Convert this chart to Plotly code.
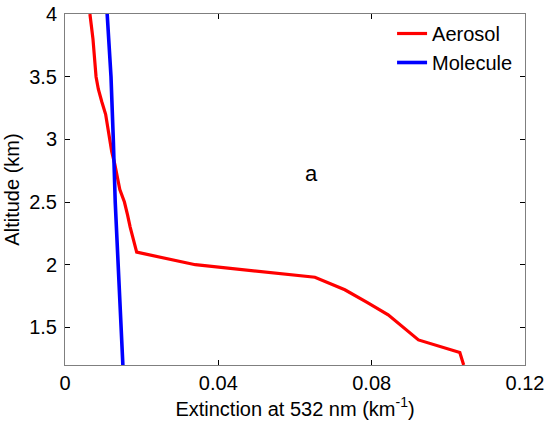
import plotly.graph_objects as go

# Aerosol extinction profile (km^-1) vs altitude (km)
aer_alt = [1.2, 1.3, 1.4, 1.5, 1.6, 1.7, 1.8, 1.9, 2.0, 2.1, 2.2, 2.3, 2.4, 2.5,
           2.6, 2.7, 2.8, 2.9, 3.0, 3.1, 3.2, 3.3, 3.4, 3.5, 3.6, 3.7, 3.8, 3.9, 4.0]
aer_ext = [0.1040, 0.1030, 0.0922, 0.0882, 0.0843, 0.0788, 0.0730, 0.0652, 0.0340,
           0.0187, 0.0178, 0.0170, 0.0163, 0.0155, 0.0143, 0.0137, 0.0130, 0.0122,
           0.0117, 0.0112, 0.0106, 0.0096, 0.0087, 0.0081, 0.0079, 0.0077, 0.0073,
           0.0069, 0.0065]

# Molecular extinction profile
mol_alt = [1.2, 2.0, 2.5, 3.0, 3.5, 4.0]
mol_ext = [0.0151, 0.0139, 0.0131, 0.0126, 0.0120, 0.0110]

x_ticks = [0, 0.04, 0.08, 0.12]
x_ticklabels = ["0", "0.04", "0.08", "0.12"]
y_ticks = [1.5, 2, 2.5, 3, 3.5, 4]
y_ticklabels = ["1.5", "2", "2.5", "3", "3.5", "4"]

font = "Liberation Sans, Arial, sans-serif"
frame = "#7f7f7f"

fig = go.Figure()
fig.add_trace(go.Scatter(x=aer_ext, y=aer_alt, mode="lines", name="Aerosol",
                         line=dict(color="#ff0000", width=3.2)))
fig.add_trace(go.Scatter(x=mol_ext, y=mol_alt, mode="lines", name="Molecule",
                         line=dict(color="#0000ff", width=3.6)))

fig.add_annotation(x=0.0644, y=2.73, text="a", showarrow=False,
                   font=dict(family=font, size=22, color="black"))

fig.update_layout(
    width=547, height=425,
    margin=dict(l=65, r=22, t=14, b=60),
    paper_bgcolor="white", plot_bgcolor="white",
    font=dict(family=font, size=20, color="black"),
    showlegend=True,
    legend=dict(x=0.711, y=1.0, xanchor="left", yanchor="top",
                bgcolor="rgba(0,0,0,0)", borderwidth=0,
                font=dict(family=font, size=20), tracegroupgap=0),
    xaxis=dict(range=[0, 0.12], tickvals=x_ticks, ticktext=x_ticklabels,
               ticks="inside", ticklen=5, tickcolor="black", automargin=False,
               showline=True, linecolor=frame, linewidth=1, mirror="ticks",
               showgrid=False, zeroline=False, tickfont=dict(size=20),
               title=dict(text="Extinction at 532 nm (km<sup>-1</sup>)",
                          font=dict(family=font, size=20), standoff=8)),
    yaxis=dict(range=[1.2, 4], tickvals=y_ticks, ticktext=y_ticklabels,
               ticks="inside", ticklen=5, tickcolor="black", automargin=False,
               showline=True, linecolor=frame, linewidth=1, mirror="ticks",
               showgrid=False, zeroline=False, tickfont=dict(size=20),
               ticklabelstandoff=3,
               title=dict(text="Altitude (km)",
                          font=dict(family=font, size=20), standoff=4)),
)

fig.write_html("out.html")
